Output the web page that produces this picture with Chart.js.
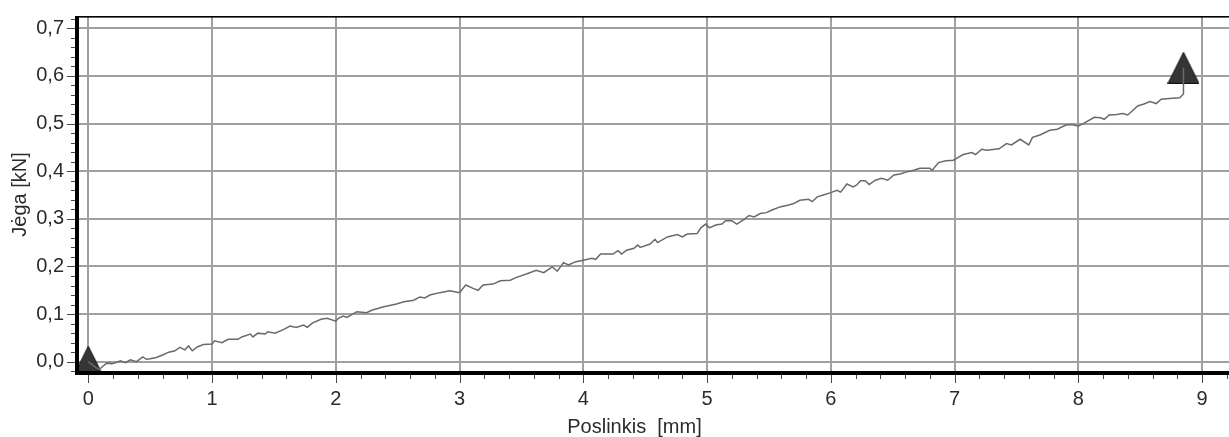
<!DOCTYPE html>
<html>
<head>
<meta charset="utf-8">
<script src="https://cdn.jsdelivr.net/npm/chart.js@4.4.1/dist/chart.umd.min.js"></script>
<style>
html,body{margin:0;padding:0;background:#fff;overflow:hidden;}
#wrap{width:1229px;height:437px;position:relative;}
</style>
</head>
<body>
<div id="wrap"><canvas id="c"></canvas></div>
<script>
// ---- data ----
const displacement = [
  0.00,0.03,0.06,0.09,0.12,0.15,0.19,0.22,0.26,0.30,
  0.34,0.39,0.44,0.47,0.50,0.55,0.60,0.65,0.70,0.74,
  0.78,0.81,0.84,0.88,0.93,1.00,1.02,1.08,1.13,1.21,
  1.24,1.31,1.33,1.37,1.43,1.45,1.51,1.58,1.63,1.68,
  1.74,1.77,1.81,1.88,1.93,2.00,2.02,2.06,2.09,2.17,
  2.25,2.29,2.38,2.49,2.55,2.63,2.68,2.72,2.76,2.84,
  2.92,3.00,3.05,3.11,3.15,3.19,3.27,3.33,3.41,3.46,
  3.54,3.62,3.68,3.75,3.79,3.84,3.88,3.94,4.00,4.07,
  4.10,4.14,4.24,4.28,4.31,4.35,4.41,4.44,4.46,4.54,
  4.58,4.60,4.68,4.76,4.80,4.84,4.92,4.95,4.99,5.02,
  5.07,5.12,5.15,5.20,5.24,5.30,5.34,5.38,5.43,5.48,
  5.52,5.59,5.66,5.70,5.75,5.82,5.85,5.89,5.94,6.00,
  6.05,6.08,6.13,6.18,6.21,6.24,6.28,6.31,6.36,6.41,
  6.46,6.51,6.56,6.62,6.67,6.72,6.80,6.82,6.87,6.93,
  6.99,7.03,7.07,7.14,7.17,7.22,7.26,7.36,7.42,7.46,
  7.53,7.60,7.63,7.69,7.77,7.83,7.90,7.94,8.00,8.04,
  8.13,8.18,8.21,8.25,8.31,8.36,8.40,8.48,8.53,8.58,
  8.63,8.67,8.76,8.82,8.85,8.85
];
const force = [
  0.000,-0.006,-0.012,-0.016,-0.009,-0.003,-0.004,-0.002,0.002,-0.002,
  0.004,0.000,0.010,0.005,0.006,0.009,0.014,0.020,0.023,0.030,
  0.025,0.033,0.023,0.031,0.036,0.037,0.044,0.040,0.047,0.047,
  0.052,0.058,0.052,0.060,0.058,0.063,0.060,0.068,0.075,0.072,
  0.077,0.072,0.081,0.089,0.091,0.085,0.091,0.096,0.093,0.105,
  0.103,0.108,0.115,0.121,0.126,0.129,0.136,0.134,0.140,0.145,
  0.149,0.145,0.161,0.154,0.150,0.161,0.163,0.170,0.171,0.177,
  0.184,0.192,0.187,0.199,0.190,0.208,0.203,0.210,0.213,0.217,
  0.215,0.226,0.226,0.233,0.226,0.234,0.238,0.245,0.240,0.247,
  0.257,0.250,0.262,0.267,0.262,0.268,0.269,0.281,0.289,0.281,
  0.287,0.289,0.296,0.296,0.289,0.299,0.307,0.304,0.311,0.313,
  0.318,0.325,0.329,0.332,0.339,0.341,0.336,0.346,0.350,0.355,
  0.360,0.356,0.373,0.367,0.371,0.380,0.380,0.372,0.381,0.385,
  0.381,0.392,0.394,0.399,0.402,0.406,0.406,0.402,0.418,0.422,
  0.423,0.429,0.435,0.439,0.435,0.446,0.444,0.447,0.458,0.455,
  0.467,0.455,0.471,0.476,0.486,0.488,0.497,0.498,0.495,0.500,
  0.513,0.512,0.509,0.518,0.519,0.521,0.518,0.537,0.541,0.546,
  0.542,0.551,0.553,0.554,0.562,0.617
];
const markerDisplacement = [0.00, 8.85];
const markerForce = [0.000, 0.617];
const xTickLabels = ['0','1','2','3','4','5','6','7','8','9'];
const yTickLabels = ['0,0','0,1','0,2','0,3','0,4','0,5','0,6','0,7'];
const xTitle = 'Poslinkis  [mm]';
const yTitle = 'Jėga [kN]';

// ---- styling / layout ----
const FONT = "'Liberation Sans', Arial, sans-serif";
const TEXT_COLOR = '#2b2b2b';
const X_TITLE_SHIFT = -18.5;

function makeTriangle(w, h) {
  const c = document.createElement('canvas');
  c.width = w; c.height = h;
  const g = c.getContext('2d');
  g.beginPath();
  g.moveTo(w / 2, 0.5);
  g.lineTo(w - 0.5, h - 0.5);
  g.lineTo(0.5, h - 0.5);
  g.closePath();
  g.fillStyle = '#353535';
  g.fill();
  g.strokeStyle = '#111';
  g.lineWidth = 1;
  g.stroke();
  return c;
}
const triangle = makeTriangle(32, 32);

function zeroPadding(s) {
  s.paddingTop = 0; s.paddingBottom = 0; s.paddingLeft = 0; s.paddingRight = 0;
}

const framePlugin = {
  id: 'frame',
  afterDraw(chart) {
    const {ctx, chartArea: a, scales: {x, y}} = chart;
    ctx.save();
    ctx.strokeStyle = '#4a4a4a';
    ctx.lineWidth = 1;
    // y ticks (major every 0.1, minor every 0.02)
    for (let k = -1; k <= 36; k++) {
      const v = k * 0.02;
      if (v < y.min || v > y.max) continue;
      const py = Math.round(y.getPixelForValue(v)) + 0.5;
      const len = (k % 5 === 0) ? 8 : 4;
      ctx.beginPath();
      ctx.moveTo(a.left - 2 - len, py);
      ctx.lineTo(a.left, py);
      ctx.stroke();
    }
    // x ticks (major every 1, minor every 0.2)
    for (let k = 0; k <= 46; k++) {
      const v = k * 0.2;
      if (v < x.min || v > x.max) continue;
      const px = Math.round(x.getPixelForValue(v)) + 0.5;
      const len = (k % 5 === 0) ? 8 : 4;
      ctx.beginPath();
      ctx.moveTo(px, a.bottom);
      ctx.lineTo(px, a.bottom + 2 + len);
      ctx.stroke();
    }
    // frame lines
    ctx.fillStyle = '#000';
    ctx.fillRect(a.left - 2, a.top, a.right - a.left + 2, 1.6);
    ctx.fillRect(a.left - 2, a.top, 4, a.bottom - a.top + 2);
    ctx.fillRect(a.left - 2, a.bottom - 2, a.right - a.left + 2, 4);
    ctx.restore();
  }
};

const titleShiftPlugin = {
  id: 'titleShift',
  beforeDraw(chart) {
    const s = chart.scales.x;
    if (s && !s._origDrawTitle) {
      s._origDrawTitle = s.drawTitle;
      s.drawTitle = function () {
        const r = this.right;
        this.right = r + 2 * X_TITLE_SHIFT;
        this._origDrawTitle();
        this.right = r;
      };
    }
  }
};

const linePoints = displacement.map((d, i) => ({x: d, y: force[i]}));
const markerPoints = markerDisplacement.map((d, i) => ({x: d, y: markerForce[i]}));

new Chart(document.getElementById('c'), {
  type: 'line',
  data: {
    datasets: [
      {
        data: linePoints,
        borderColor: '#6a6a6a',
        borderWidth: 1.5,
        pointRadius: 0,
        tension: 0,
        fill: false,
        order: 0
      },
      {
        data: markerPoints,
        showLine: false,
        pointStyle: triangle,
        pointRadius: 1,
        borderWidth: 0,
        order: 1,
        clip: 0
      }
    ]
  },
  options: {
    responsive: true,
    maintainAspectRatio: false,
    devicePixelRatio: 1,
    animation: false,
    layout: {autoPadding: false, padding: {top: 16, right: 0, left: 0, bottom: 0}},
    plugins: {legend: {display: false}, tooltip: {enabled: false}},
    scales: {
      x: {
        type: 'linear',
        min: -0.0913,
        max: 9.218,
        afterFit(s) { s.height = 64; zeroPadding(s); },
        border: {display: false},
        grid: {color: '#a0a0a0', lineWidth: 2, drawTicks: false},
        ticks: {
          stepSize: 1,
          includeBounds: false,
          padding: 14,
          color: TEXT_COLOR,
          font: {family: FONT, size: 20},
          maxRotation: 0,
          autoSkip: false,
          callback: (v) => xTickLabels[Math.round(v)] ?? ''
        },
        title: {
          display: true,
          text: xTitle,
          color: TEXT_COLOR,
          font: {family: FONT, size: 20, lineHeight: 1},
          padding: {top: 0, bottom: 0}
        }
      },
      y: {
        type: 'linear',
        min: -0.0237,
        max: 0.7258,
        afterFit(s) { s.width = 77; zeroPadding(s); },
        border: {display: false},
        grid: {color: '#a0a0a0', lineWidth: 2, drawTicks: false},
        ticks: {
          stepSize: 0.1,
          includeBounds: false,
          padding: 13,
          color: TEXT_COLOR,
          font: {family: FONT, size: 20},
          autoSkip: false,
          callback: (v) => yTickLabels[Math.round(v * 10)] ?? ''
        },
        title: {
          display: true,
          text: yTitle,
          color: TEXT_COLOR,
          font: {family: FONT, size: 20, lineHeight: 1},
          padding: {top: 10, bottom: 0}
        }
      }
    }
  },
  plugins: [framePlugin, titleShiftPlugin]
});
</script>
</body>
</html>
